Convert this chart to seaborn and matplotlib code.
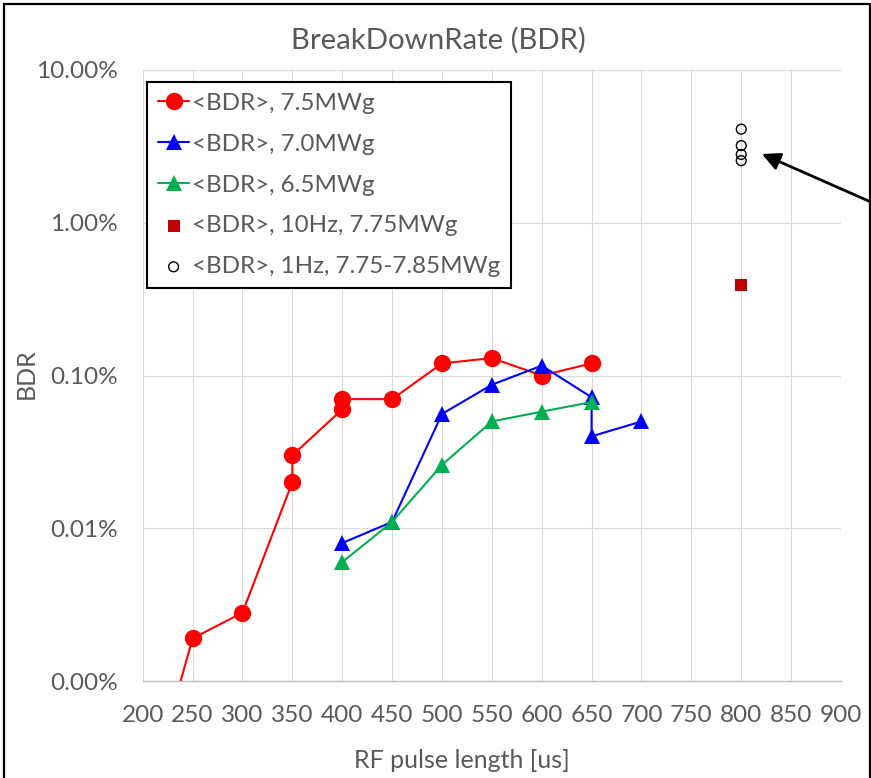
import numpy as np
import pandas as pd
import matplotlib
matplotlib.use("Agg")
import matplotlib.pyplot as plt
from matplotlib.patches import Rectangle
from matplotlib.ticker import FixedLocator, FixedFormatter, NullLocator
import seaborn as sns

# Breakdown rate (in %) versus RF pulse length (us)
x_75 = [200, 250, 300, 350, 350, 400, 400, 450, 500, 550, 600, 650]
bdr_75 = [0.00013, 0.0019, 0.0028, 0.020, 0.030, 0.060, 0.070, 0.070, 0.12, 0.13, 0.10, 0.12]

x_70 = [400, 450, 500, 550, 600, 650, 650, 700]
bdr_70 = [0.008, 0.011, 0.056, 0.087, 0.116, 0.072, 0.040, 0.050]

x_65 = [400, 450, 500, 550, 600, 650]
bdr_65 = [0.006, 0.011, 0.026, 0.050, 0.058, 0.067]

x_10hz = [800]
bdr_10hz = [0.39]

x_1hz = [800, 800, 800, 800]
bdr_1hz = [4.1, 3.2, 2.8, 2.55]

x_ticks = list(range(200, 901, 50))
y_ticks = [0.001, 0.01, 0.1, 1, 10]
y_tick_labels = ["0.00%", "0.01%", "0.10%", "1.00%", "10.00%"]

labels = ["<BDR>, 7.5MWg", "<BDR>, 7.0MWg", "<BDR>, 6.5MWg",
          "<BDR>, 10Hz, 7.75MWg", "<BDR>, 1Hz, 7.75-7.85MWg"]

sns.set_theme(style="white")
plt.rcParams["font.family"] = ["Lato", "DejaVu Sans"]
TXT = "#595959"

W, H = 871, 778
fig = plt.figure(figsize=(W / 100, H / 100), dpi=100)
L, R, T, B = 142.7, 841.0, 70.0, 681.0
ax = fig.add_axes([L / W, 1 - B / H, (R - L) / W, (B - T) / H])

df75 = pd.DataFrame({"x": x_75, "y": bdr_75})
df70 = pd.DataFrame({"x": x_70, "y": bdr_70})
df65 = pd.DataFrame({"x": x_65, "y": bdr_65})
df10 = pd.DataFrame({"x": x_10hz, "y": bdr_10hz})
df1 = pd.DataFrame({"x": x_1hz, "y": bdr_1hz})

common = dict(estimator=None, sort=False, linewidth=1.5, markeredgewidth=0)
sns.lineplot(data=df75, x="x", y="y", ax=ax, color="#FF0000", marker="o",
             markersize=12.5, label=labels[0], **common)
sns.lineplot(data=df70, x="x", y="y", ax=ax, color="#0000FF", marker="^",
             markersize=11.5, label=labels[1], **common)
sns.lineplot(data=df65, x="x", y="y", ax=ax, color="#00B050", marker="^",
             markersize=11.5, label=labels[2], **common)
sns.scatterplot(data=df10, x="x", y="y", ax=ax, color="#C00000", marker="s",
                s=72, linewidth=0, label=labels[3])
sns.scatterplot(data=df1, x="x", y="y", ax=ax, color="black", marker="o",
                s=50, linewidth=1.0, label=labels[4])
open_circles = ax.collections[-1]
open_circles.set_facecolor("none")
open_circles.set_edgecolor("black")

ax.set_yscale("log")
ax.set_xlim(200, 900)
ax.set_ylim(0.001, 10)
ax.xaxis.set_major_locator(FixedLocator(x_ticks))
ax.yaxis.set_major_locator(FixedLocator(y_ticks))
ax.yaxis.set_major_formatter(FixedFormatter(y_tick_labels))
ax.yaxis.set_minor_locator(NullLocator())
ax.grid(True, which="major", color="#D9D9D9", linewidth=0.8)
ax.set_axisbelow(True)
for s in ("top", "right", "left"):
    ax.spines[s].set_visible(False)
ax.spines["bottom"].set_color("#BFBFBF")
ax.spines["bottom"].set_linewidth(1.0)
ax.tick_params(axis="both", length=0, labelsize=17.6, labelcolor=TXT)
ax.tick_params(axis="x", pad=17)
ax.tick_params(axis="y", pad=18)

ax.set_xlabel("RF pulse length [us]", fontsize=18, color=TXT)
ax.set_ylabel("BDR", fontsize=18, color=TXT)
ax.xaxis.set_label_coords((462 - L) / (R - L), (B - 760) / (B - T))
ax.xaxis.label.set_va("center")
ax.yaxis.set_label_coords((26 - L) / (R - L), (B - 374) / (B - T))
ax.yaxis.label.set_va("center")

fig.text(438 / W, 1 - 40 / H, "BreakDownRate (BDR)", ha="center", va="center",
         fontsize=21.2, color=TXT)

leg = ax.legend(loc="upper left", bbox_to_anchor=((147 - L) / (R - L), (B - 82) / (B - T)),
                borderaxespad=0, fancybox=False, framealpha=1, edgecolor="black",
                fontsize=17.4, labelcolor=TXT, handlelength=1.3, handletextpad=0.1,
                labelspacing=0.82, borderpad=0.45, markerscale=1.0)
leg.get_frame().set_linewidth(1.5)

# pointer to the 1 Hz measurements
ax.annotate("", xy=(762, H - 154), xycoords="figure pixels",
            xytext=(880, H - 206), textcoords="figure pixels",
            arrowprops=dict(arrowstyle="-|>,head_length=0.9,head_width=0.45",
                            color="black", lw=2, shrinkA=0, shrinkB=0),
            annotation_clip=False)

# chart frame
fig.patches.append(Rectangle((3.5 / W, -0.02), (869.5 - 3.5) / W, 1.02 - 4 / H,
                             transform=fig.transFigure, fill=False,
                             edgecolor="black", linewidth=1.6))

fig.savefig("out.png", dpi=100)
